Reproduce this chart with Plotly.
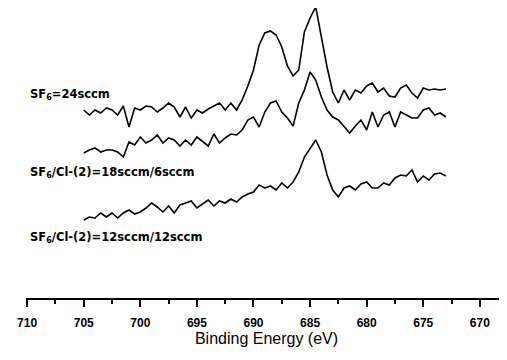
import plotly.graph_objects as go

# Binding energy grid (eV), 705 -> 673 in 0.5 eV steps
energy = [705 - 0.5 * i for i in range(65)]

# Intensities (arbitrary units, offset spectra)
sf6_24 = [190, 185, 190, 187, 192, 190, 185, 194, 173, 192,
          190, 194, 193, 188, 192, 197, 193, 183, 193, 182,
          190, 187, 191, 194, 197, 190, 197, 190, 200, 214,
          230, 255, 267, 269, 265, 253, 234, 224, 230, 268,
          282, 293, 262, 233, 208, 197, 210, 200, 210, 207,
          214, 217, 208, 212, 204, 203, 212, 215, 207, 202,
          212, 210, 211, 210, 211]
sf6_18_6 = [147, 150, 152, 148, 150, 150, 148, 143, 158, 155,
            163, 157, 160, 165, 157, 162, 160, 154, 160, 155,
            163, 158, 154, 166, 157, 162, 166, 165, 170, 180,
            183, 173, 188, 197, 199, 188, 182, 174, 197, 210,
            228, 220, 203, 190, 183, 180, 173, 167, 174, 180,
            170, 188, 173, 185, 188, 173, 188, 185, 182, 182,
            190, 192, 185, 187, 183]
sf6_12_12 = [80, 83, 82, 87, 83, 87, 82, 87, 90, 86,
             88, 92, 97, 93, 88, 94, 87, 95, 97, 99,
             92, 96, 100, 94, 99, 97, 101, 98, 103, 106,
             108, 115, 112, 114, 110, 117, 112, 118, 128, 143,
             152, 160, 148, 125, 110, 103, 112, 114, 110, 116,
             118, 112, 112, 117, 115, 122, 125, 124, 130, 118,
             124, 120, 126, 127, 124]

labels = ["SF<sub>6</sub>=24sccm",
          "SF<sub>6</sub>/Cl-(2)=18sccm/6sccm",
          "SF<sub>6</sub>/Cl-(2)=12sccm/12sccm"]
label_y = [206, 128, 63]

tick_vals = [710, 705, 700, 695, 690, 685, 680, 675, 670]

fig = go.Figure()
for series in (sf6_24, sf6_18_6, sf6_12_12):
    fig.add_trace(go.Scatter(x=energy, y=series, mode="lines",
                             line=dict(color="black", width=1.6),
                             showlegend=False, hoverinfo="skip"))

for text, yv in zip(labels, label_y):
    fig.add_annotation(x=0.004, xref="paper", y=yv, yref="y", text=text,
                       showarrow=False, xanchor="left", yanchor="middle",
                       font=dict(family="DejaVu Sans", size=11.5, color="black",
                                 weight="bold"))

fig.update_layout(
    width=499, height=352,
    margin=dict(l=18, r=0, t=0, b=62),
    paper_bgcolor="white", plot_bgcolor="white",
    xaxis=dict(range=[710.1, 667.6], showgrid=False, zeroline=False,
               showline=True, linecolor="black", linewidth=2,
               tickmode="array", tickvals=tick_vals,
               ticks="outside", ticklen=7, tickwidth=2, tickcolor="black",
               ticklabelstandoff=6,
               tickfont=dict(family="Liberation Sans", size=12, color="black",
                             weight="bold"),
               minor=dict(dtick=2.5, tick0=0, ticks="outside", ticklen=4,
                          tickwidth=1.5, tickcolor="black"),
               title=dict(text="Binding Energy (eV)", standoff=3,
                          font=dict(family="Liberation Sans", size=16,
                                    color="black"))),
    yaxis=dict(range=[2, 292], visible=False),
)

fig.write_html("out.html")
